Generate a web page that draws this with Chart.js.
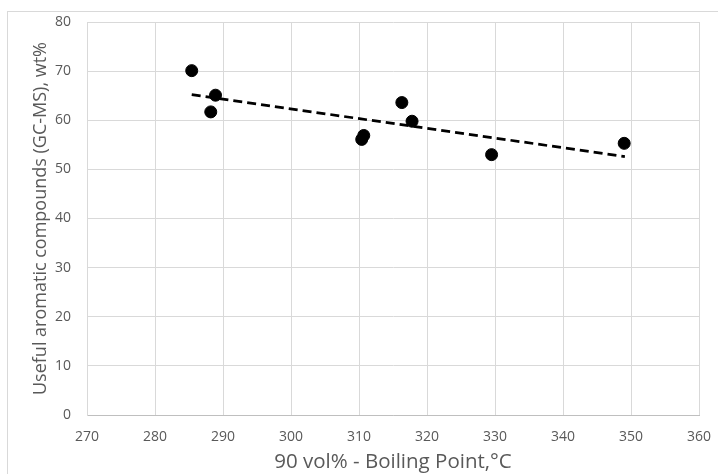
<!DOCTYPE html>
<html>
<head>
<meta charset="utf-8">
<script src="https://cdn.jsdelivr.net/npm/chart.js@4/dist/chart.umd.min.js"></script>
<style>
  html, body { margin: 0; padding: 0; background: #ffffff; overflow: hidden; }
  #wrap { position: relative; width: 718px; height: 474px; }
  #frame { position: absolute; left: 7px; top: 11px; width: 730px; height: 480px; border: 1px solid #d9d9d9; }
  #chart { position: absolute; left: 0; top: 0; }
</style>
</head>
<body>
<div id="wrap">
  <div id="frame"></div>
  <canvas id="chart" width="718" height="474"></canvas>
</div>
<script>
// Données
const boilingPoint = [285.4, 288.2, 288.9, 310.4, 310.7, 316.3, 317.8, 329.5, 349.0];
const aromatics = [70.1, 61.7, 65.1, 56.1, 56.9, 63.6, 59.8, 53.0, 55.3];

// Courbe de tendance (extrémités)
const trendX = [285.4, 349.1];
const trendY = [65.2, 52.6];

const xTicks = [270, 280, 290, 300, 310, 320, 330, 340, 350, 360];
const yTicks = [0, 10, 20, 30, 40, 50, 60, 70, 80];

const xTitle = '90 vol% - Boiling Point,°C';
const yTitle = 'Useful aromatic compounds (GC-MS), wt%';

const textColor = '#595959';
const gridColor = '#d9d9d9';
const fontFamily = "'Open Sans', 'Liberation Sans', sans-serif";

const points = boilingPoint.map((x, i) => ({ x: x, y: aromatics[i] }));
const trend = trendX.map((x, i) => ({ x: x, y: trendY[i] }));

new Chart(document.getElementById('chart'), {
    type: 'scatter',
    data: {
        datasets: [
            {
                label: 'Données',
                data: points,
                backgroundColor: '#000000',
                borderColor: '#000000',
                pointRadius: 6,
                pointHoverRadius: 6,
                order: 1
            },
            {
                label: 'Tendance',
                type: 'line',
                data: trend,
                borderColor: '#000000',
                borderWidth: 2.75,
                borderDash: [9, 5],
                pointRadius: 0,
                fill: false,
                order: 2
            }
        ]
    },
    options: {
        responsive: false,
        animation: false,
        events: [],
        layout: {
            padding: { left: 0, top: 22, right: 19, bottom: 0 }
        },
        plugins: {
            legend: { display: false },
            tooltip: { enabled: false }
        },
        scales: {
            x: {
                type: 'linear',
                min: xTicks[0],
                max: xTicks[xTicks.length - 1],
                afterBuildTicks: scale => { scale.ticks = xTicks.map(v => ({ value: v })); },
                afterFit: scale => {
                    scale.height = 59;
                    scale.paddingLeft = 0;
                    scale.paddingRight = 0;
                },
                grid: { color: gridColor, drawTicks: false },
                border: { color: '#bfbfbf' },
                ticks: {
                    color: textColor,
                    padding: 14,
                    font: { family: fontFamily, size: 14 }
                },
                title: {
                    display: true,
                    text: xTitle,
                    color: textColor,
                    font: { family: fontFamily, size: 20.5 },
                    padding: 0
                }
            },
            y: {
                type: 'linear',
                min: yTicks[0],
                max: yTicks[yTicks.length - 1],
                afterBuildTicks: scale => { scale.ticks = yTicks.map(v => ({ value: v })); },
                afterFit: scale => {
                    scale.width = 87;
                    scale.paddingTop = 0;
                    scale.paddingBottom = 0;
                },
                grid: { color: gridColor, drawTicks: false },
                border: { color: gridColor },
                ticks: {
                    color: textColor,
                    padding: 16,
                    font: { family: fontFamily, size: 14 }
                },
                title: {
                    display: true,
                    text: yTitle,
                    color: textColor,
                    font: { family: fontFamily, size: 18 },
                    padding: { top: 30, bottom: 0 }
                }
            }
        }
    }
});
</script>
</body>
</html>
